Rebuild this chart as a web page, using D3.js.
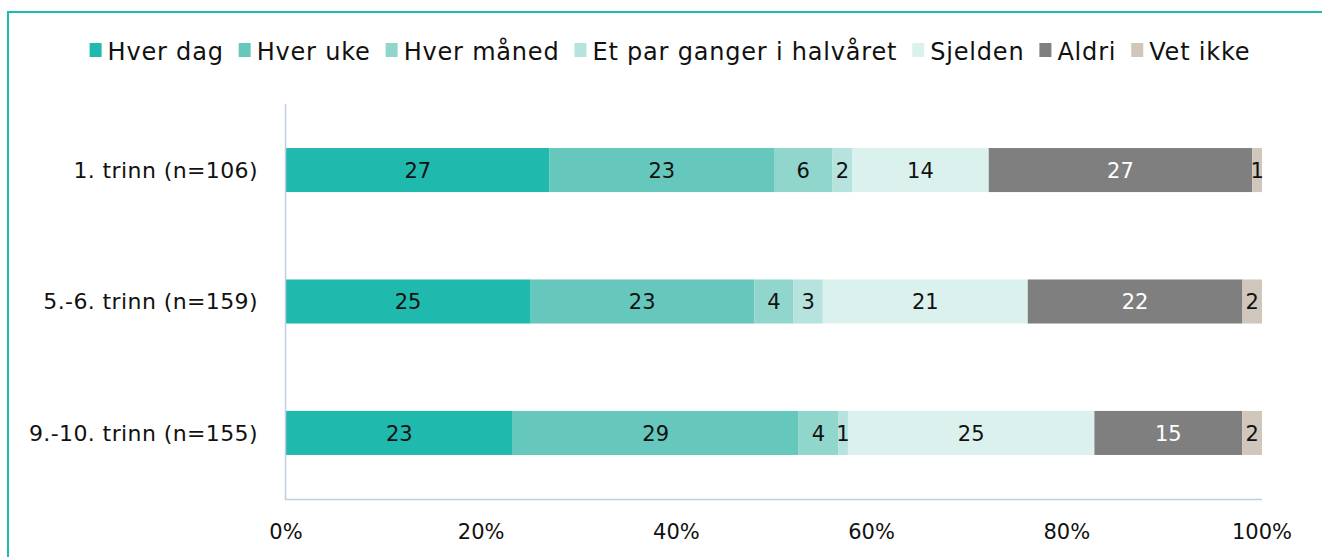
<!DOCTYPE html>
<html>
<head>
<meta charset="utf-8">
<script src="https://cdnjs.cloudflare.com/ajax/libs/d3/7.8.5/d3.min.js"></script>
<style>
  body { margin: 0; background: #fff; }
  svg { display: block; }
  text { font-family: "DejaVu Sans", "Lato", sans-serif; }
</style>
</head>
<body>
<svg id="chart"></svg>
<script>
const categories = ["1. trinn (n=106)", "5.-6. trinn (n=159)", "9.-10. trinn (n=155)"];
const series = ["Hver dag", "Hver uke", "Hver måned", "Et par ganger i halvåret", "Sjelden", "Aldri", "Vet ikke"];
const colors = ["#20b9ae", "#66c8bd", "#91d6cd", "#b6e3de", "#dbf1ee", "#7f7f7f", "#d0c6bc"];
const labelColors = ["#111", "#111", "#111", "#111", "#111", "#fff", "#111"];
// percent per category, in series order
const values = [
    [27, 23, 6, 2, 14, 27, 1],
    [25, 23, 4, 3, 21, 22, 2],
    [23, 29, 4, 1, 25, 15, 2]
];
const ticks = [0, 0.2, 0.4, 0.6, 0.8, 1];

const WIDTH = 1322;
const HEIGHT = 557;
const PLOT = {left: 286, right: 1262, top: 104, bottom: 499};
const FONT = 21;

const svg = d3.select('#chart')
    .attr('width', WIDTH)
    .attr('height', HEIGHT);

// chart border (only top and left visible in frame)
svg.append('rect')
    .attr('x', 8)
    .attr('y', 12)
    .attr('width', WIDTH + 20)
    .attr('height', HEIGHT + 20)
    .attr('fill', 'none')
    .attr('stroke', '#20b9ae')
    .attr('stroke-width', 2);

const x = d3.scaleLinear().domain([0, 1]).range([PLOT.left, PLOT.right]);
const y = d3.scaleBand().domain(categories).range([PLOT.top, PLOT.bottom]).paddingInner(0.665).paddingOuter(0.335);

// stacked, normalised to 100%
const rows = categories.map((c, i) => {
    const total = d3.sum(values[i]);
    let acc = 0;
    return values[i].map((v, j) => {
        const seg = {cat: c, series: j, value: v, x0: acc / total, x1: (acc + v) / total};
        acc += v;
        return seg;
    });
});

const bars = svg.append('g');
rows.forEach(row => {
    bars.selectAll(null)
        .data(row)
        .enter()
        .append('rect')
        .attr('x', d => x(d.x0))
        .attr('y', d => y(d.cat))
        .attr('width', d => x(d.x1) - x(d.x0))
        .attr('height', y.bandwidth())
        .attr('fill', d => colors[d.series]);

    bars.selectAll(null)
        .data(row)
        .enter()
        .append('text')
        .text(d => d.value)
        .attr('x', d => (x(d.x0) + x(d.x1)) / 2)
        .attr('y', d => y(d.cat) + y.bandwidth() / 2)
        .attr('dy', '0.36em')
        .attr('text-anchor', 'middle')
        .attr('font-size', FONT)
        .attr('fill', d => labelColors[d.series]);
});

// axes lines
const axisColor = '#bfcfe3';
svg.append('line')
    .attr('x1', PLOT.left - 0.5).attr('x2', PLOT.left - 0.5)
    .attr('y1', PLOT.top).attr('y2', PLOT.bottom + 1)
    .attr('stroke', axisColor).attr('stroke-width', 1.5);
svg.append('line')
    .attr('x1', PLOT.left - 1).attr('x2', PLOT.right)
    .attr('y1', PLOT.bottom + 0.5).attr('y2', PLOT.bottom + 0.5)
    .attr('stroke', axisColor).attr('stroke-width', 1.5);

// category labels
svg.append('g').selectAll('text')
    .data(categories)
    .enter()
    .append('text')
    .text(d => d)
    .attr('x', 258)
    .attr('y', d => y(d) + y.bandwidth() / 2)
    .attr('dy', '0.36em')
    .attr('text-anchor', 'end')
    .attr('font-size', 22)
    .attr('letter-spacing', 0.4)
    .attr('fill', '#111');

// x tick labels
svg.append('g').selectAll('text')
    .data(ticks)
    .enter()
    .append('text')
    .text(d3.format('.0%'))
    .attr('x', d => x(d))
    .attr('y', 531)
    .attr('dy', '0.36em')
    .attr('text-anchor', 'middle')
    .attr('font-size', FONT)
    .attr('fill', '#111');

// legend
const legend = svg.append('g');
let lx = 0;
series.forEach((s, i) => {
    const item = legend.append('g').attr('transform', `translate(${lx},0)`);
    item.append('rect')
        .attr('x', 0).attr('y', -8)
        .attr('width', 12).attr('height', 14)
        .attr('fill', colors[i]);
    const t = item.append('text')
        .text(s)
        .attr('x', 18)
        .attr('y', 0)
        .attr('dy', '0.36em')
        .attr('font-size', 24)
        .attr('letter-spacing', 0.8)
        .attr('fill', '#111');
    lx += 18 + t.node().getComputedTextLength() + 15;
});
const legendWidth = lx - 15;
legend.attr('transform', `translate(${670 - legendWidth / 2},51)`);
</script>
</body>
</html>
